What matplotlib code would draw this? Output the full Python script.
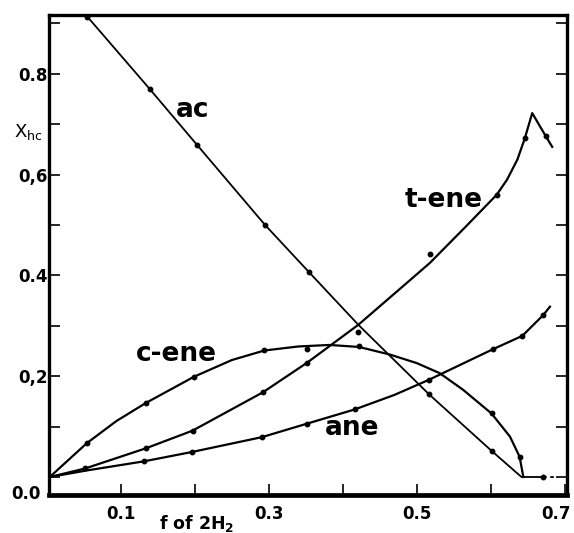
import matplotlib
matplotlib.use("Agg")
import matplotlib.pyplot as plt
from matplotlib.transforms import ScaledTranslation

# ---- data ----
# curve nodes (lines)
ac_x = [0.055, 0.139, 0.203, 0.295, 0.354, 0.421, 0.5166, 0.601, 0.6415, 0.6707]
ac_y = [0.913, 0.770, 0.659, 0.500, 0.407, 0.302, 0.164, 0.052, 0.0, 0.0]
ac_tail_x = [0.6707, 0.686]
ac_tail_y = [0.0, 0.0]

tene_x = [0.004, 0.052, 0.134, 0.197, 0.292, 0.352, 0.421, 0.477, 0.5176, 0.567, 0.608, 0.622, 0.636, 0.646, 0.656, 0.674, 0.683]
tene_y = [0.0, 0.017, 0.057, 0.092, 0.168, 0.227, 0.302, 0.373, 0.4246, 0.498, 0.560, 0.590, 0.630, 0.672, 0.722, 0.677, 0.655]

cene_x = [0.004, 0.054, 0.094, 0.134, 0.199, 0.25, 0.294, 0.340, 0.382, 0.422, 0.4635, 0.50, 0.531, 0.5626, 0.601, 0.626, 0.639, 0.644]
cene_y = [0.0, 0.067, 0.111, 0.147, 0.199, 0.232, 0.251, 0.259, 0.262, 0.258, 0.243, 0.226, 0.206, 0.173, 0.126, 0.080, 0.040, 0.0]

ane_x = [0.004, 0.054, 0.131, 0.196, 0.2905, 0.352, 0.416, 0.47, 0.5166, 0.603, 0.6426, 0.6707, 0.680]
ane_y = [0.0, 0.013, 0.031, 0.0496, 0.079, 0.106, 0.134, 0.163, 0.193, 0.2536, 0.280, 0.321, 0.338]

# measured points (dots)
ac_px = [0.055, 0.139, 0.203, 0.295, 0.354, 0.5166, 0.601, 0.6707]
ac_py = [0.913, 0.770, 0.659, 0.500, 0.407, 0.164, 0.052, 0.0]
tene_px = [0.052, 0.134, 0.197, 0.292, 0.352, 0.421, 0.5176, 0.608, 0.646, 0.674]
tene_py = [0.017, 0.057, 0.092, 0.168, 0.227, 0.288, 0.442, 0.560, 0.672, 0.677]
cene_px = [0.054, 0.134, 0.199, 0.294, 0.352, 0.422, 0.601, 0.639]
cene_py = [0.067, 0.147, 0.199, 0.251, 0.253, 0.260, 0.127, 0.040]
ane_px = [0.131, 0.196, 0.2905, 0.352, 0.416, 0.5166, 0.603, 0.6426, 0.6707]
ane_py = [0.031, 0.0496, 0.079, 0.106, 0.134, 0.193, 0.2536, 0.280, 0.321]

yticks = [0.0, 0.1, 0.2, 0.3, 0.4, 0.5, 0.6, 0.7, 0.8, 0.9]
ytick_labels = ["", "", "0,2", "", "0.4", "", "0,6", "", "0.8", ""]
xticks = [0.1, 0.2, 0.3, 0.4, 0.5, 0.6, 0.7]
xtick_labels = ["0.1", "", "0.3", "", "0.5", "", "0.7"]

fig = plt.figure(figsize=(5.74, 5.33), dpi=100)
ax = fig.add_axes([0.0854, 0.0713, 0.9024, 0.9006])
ax.set_xlim(0.003, 0.703)
ax.set_ylim(-0.0357, 0.9167)

lw = 1.6
ax.plot(ac_x, ac_y, color="black", lw=1.3)
ax.plot(ac_tail_x, ac_tail_y, color="black", lw=1.3, ls=(0, (2, 2)))
ax.plot(tene_x, tene_y, color="black", lw=lw)
ax.plot(cene_x, cene_y, color="black", lw=lw)
ax.plot(ane_x, ane_y, color="black", lw=lw)
for xs, ys in [(ac_px, ac_py), (tene_px, tene_py), (cene_px, cene_py), (ane_px, ane_py)]:
    ax.plot(xs, ys, "o", color="black", ms=3.2, ls="none")

for name, s in ax.spines.items():
    s.set_linewidth(3.4 if name == "bottom" else 2.4)

ax.set_yticks(yticks)
ax.set_yticklabels(ytick_labels)
ax.set_xticks(xticks)
ax.set_xticklabels(xtick_labels)
ax.tick_params(axis="y", direction="in", length=8, width=1.2, pad=1,
               labelsize=12, right=True)
ax.tick_params(axis="x", direction="in", length=8, width=1.2, pad=7,
               labelsize=12)
for t in ax.get_xticklabels() + ax.get_yticklabels():
    t.set_fontweight("bold")
last = ax.get_xticklabels()[-1]
last.set_horizontalalignment("right")
last.set_transform(last.get_transform() + ScaledTranslation(6 / 100, 0, fig.dpi_scale_trans))

ax.text(-0.017, -0.034, "0.0", transform=ax.get_yaxis_transform(),
        ha="right", va="center", fontsize=12, fontweight="bold")

fig.text(28 / 574, 1 - 132 / 533, r"$\mathregular{X_{hc}}$", fontsize=13,
         ha="center", va="center")
fig.text(197 / 574, 1 - 523 / 533, r"f of 2H$_\mathbf{2}$", fontsize=12.5,
         fontweight="bold", ha="center", va="center")

lab = dict(fontsize=19, fontweight="bold", ha="center", va="center")
ax.text((193 - 47) / 740, (477 - 110) / 504, "ac", **lab)
ax.text((444 - 47) / 740, (477 - 200) / 504, "t-ene", **lab)
ax.text((177 - 47) / 740, (477 - 354) / 504, "c-ene", **lab)
ax.text((352 - 47) / 740, (477 - 428) / 504, "ane", **lab)

fig.savefig("out.png", dpi=100)
